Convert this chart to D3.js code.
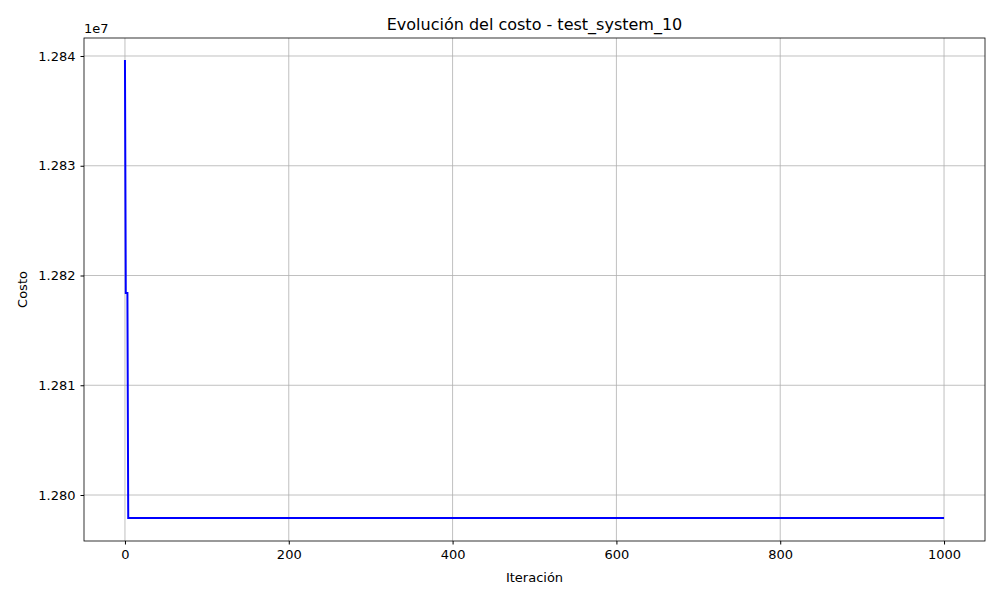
<!DOCTYPE html>
<html>
<head>
<meta charset="utf-8">
<script src="https://cdn.jsdelivr.net/npm/d3@7"></script>
<style>
  body { margin: 0; background: #fff; }
  text { font-family: "DejaVu Sans", sans-serif; fill: #000; }
</style>
</head>
<body>
<svg id="chart" width="1000" height="600"></svg>
<script>
// Breakpoints of the cost curve (iteration, cost)
var iterations = [0, 1, 3, 4, 1000];
var costs = [12839640, 12818410, 12818410, 12797900, 12797900];
var xTicks = [0, 200, 400, 600, 800, 1000];
var yTicks = [12800000, 12810000, 12820000, 12830000, 12840000];

var data = iterations.map(function(d, i) { return { x: d, y: costs[i] }; });

var plotLeft = 84, plotRight = 985, plotTop = 38, plotBottom = 541;
var svg = d3.select("#chart");

var x = d3.scaleLinear().domain([-50, 1050]).range([plotLeft, plotRight]);
var y = d3.scaleLinear().domain([12795810, 12841640]).range([plotBottom, plotTop]);

// Grid lines
svg.append("g").selectAll("line").data(xTicks).enter().append("line")
   .attr("x1", function(d) { return x(d); }).attr("x2", function(d) { return x(d); })
   .attr("y1", plotTop).attr("y2", plotBottom)
   .attr("stroke", "#b0b0b0").attr("stroke-width", 0.8);
svg.append("g").selectAll("line").data(yTicks).enter().append("line")
   .attr("y1", function(d) { return y(d); }).attr("y2", function(d) { return y(d); })
   .attr("x1", plotLeft).attr("x2", plotRight)
   .attr("stroke", "#b0b0b0").attr("stroke-width", 0.8);

// Axes
var xAxis = svg.append("g").attr("transform", "translate(0," + plotBottom + ")")
   .call(d3.axisBottom(x).tickValues(xTicks).tickSize(3.5).tickPadding(5)
   .tickFormat(d3.format("d")));
var yAxis = svg.append("g").attr("transform", "translate(" + plotLeft + ",0)")
   .call(d3.axisLeft(y).tickValues(yTicks).tickSize(3.5).tickPadding(5)
   .tickFormat(function(d) { return (d / 1e7).toFixed(3); }));
[xAxis, yAxis].forEach(function(a) {
    a.select(".domain").remove();
    a.selectAll("text").style("font-size", "13px").style("font-family", "DejaVu Sans");
});

// Frame
svg.append("rect").attr("x", plotLeft).attr("y", plotTop)
   .attr("width", plotRight - plotLeft).attr("height", plotBottom - plotTop)
   .attr("fill", "none").attr("stroke", "#000").attr("stroke-width", 0.8);

// Cost line
svg.append("path").datum(data)
   .attr("d", d3.line().x(function(d) { return x(d.x); }).y(function(d) { return y(d.y); }))
   .attr("fill", "none").attr("stroke", "#0000ff").attr("stroke-width", 2);

// Labels
svg.append("text").attr("x", (plotLeft + plotRight) / 2).attr("y", 30)
   .attr("text-anchor", "middle").style("font-size", "16px")
   .text("Evolución del costo - test_system_10");
svg.append("text").attr("x", (plotLeft + plotRight) / 2).attr("y", 582)
   .attr("text-anchor", "middle").style("font-size", "13px").text("Iteración");
svg.append("text").attr("transform", "translate(27," + (plotTop + plotBottom) / 2 + ") rotate(-90)")
   .attr("text-anchor", "middle").style("font-size", "13px").text("Costo");
svg.append("text").attr("x", plotLeft).attr("y", 33)
   .style("font-size", "13px").text("1e7");
</script>
</body>
</html>
